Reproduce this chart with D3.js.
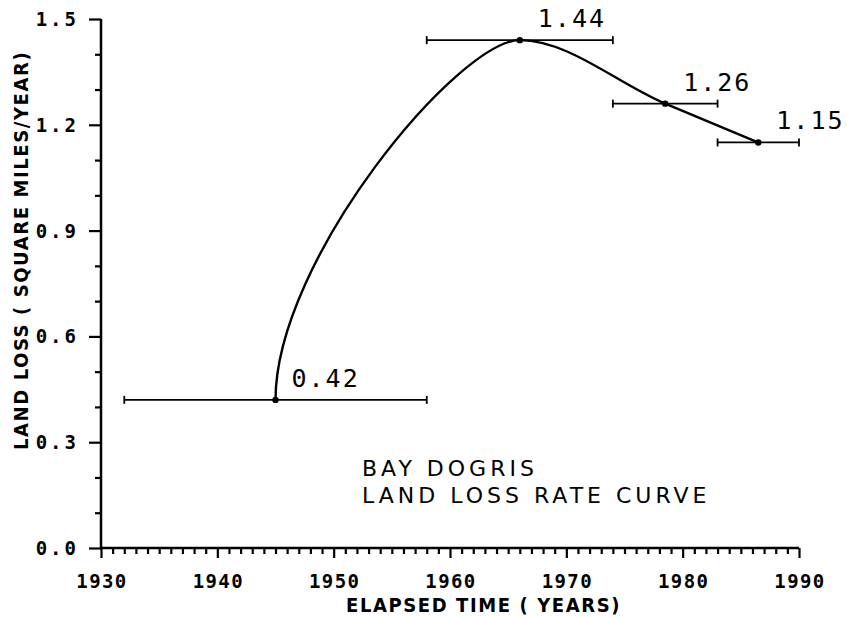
<!DOCTYPE html>
<html>
<head>
<meta charset="utf-8">
<script src="https://cdn.jsdelivr.net/npm/d3@7"></script>
<style>
  html, body { margin: 0; padding: 0; background: #fff; }
  svg { display: block; }
  text { fill: #000; }
</style>
</head>
<body>
<script>
// Land loss rate observations for Bay Dogris
const years = [1945, 1966, 1978.5, 1986.5];          // mid-point of each survey interval
const rates = [0.42, 1.44, 1.26, 1.15];              // square miles per year
const intervalStart = [1932, 1958, 1974, 1983];      // survey interval bounds
const intervalEnd = [1958, 1974, 1983, 1990];
const rateLabels = ["0.42", "1.44", "1.26", "1.15"];

const xTickValues = [1930, 1940, 1950, 1960, 1970, 1980, 1990];
const yTickValues = [0.0, 0.3, 0.6, 0.9, 1.2, 1.5];
const yTickLabels = ["0.0", "0.3", "0.6", "0.9", "1.2", "1.5"];

const titleLines = ["BAY DOGRIS", "LAND LOSS RATE CURVE"];
const xTitle = "ELAPSED TIME ( YEARS)";
const yTitle = "LAND LOSS ( SQUARE MILES/YEAR)";

const W = 847, H = 617;
const svg = d3.select("body").append("svg").attr("width", W).attr("height", H);

const x = d3.scaleLinear().domain([1930, 1990]).range([101, 799]);
const y = d3.scaleLinear().domain([0, 1.5]).range([548, 19]);

const mono = "'DejaVu Sans Mono', 'Liberation Mono', monospace";
const cond = "'DejaVu Sans Condensed', 'DejaVu Sans', sans-serif";

// Plotter-style spline: leaves the first point vertically, flattens at local
// extremes and uses monotone Hermite tangents elsewhere.
function curvePlotter(context) {
  let pts;
  return {
    areaStart() {}, areaEnd() {},
    lineStart() { pts = []; },
    point(px, py) { pts.push([+px, +py]); },
    lineEnd() {
      const n = pts.length;
      if (!n) return;
      context.moveTo(pts[0][0], pts[0][1]);
      if (n < 2) return;
      const h = [], s = [];
      for (let i = 0; i < n - 1; i++) {
        h[i] = pts[i + 1][0] - pts[i][0];
        s[i] = (pts[i + 1][1] - pts[i][1]) / h[i];
      }
      const m = new Array(n).fill(0);
      for (let i = 1; i < n - 1; i++) {
        if (s[i - 1] * s[i] <= 0) { m[i] = 0; continue; }
        const p = (s[i - 1] * h[i] + s[i] * h[i - 1]) / (h[i - 1] + h[i]);
        m[i] = (Math.sign(s[i - 1]) + Math.sign(s[i])) *
               Math.min(Math.abs(s[i - 1]), Math.abs(s[i]), 0.5 * Math.abs(p));
      }
      m[n - 1] = n > 2 ? (3 * s[n - 2] - m[n - 2]) / 2 : s[0];
      for (let i = 0; i < n - 1; i++) {
        const [x0, y0] = pts[i], [x1, y1] = pts[i + 1];
        let c1x, c1y, c2x, c2y;
        if (i === 0) {
          c1x = x0; c1y = y0 + (y1 - y0) * 0.39;
          const d = h[0] * 0.25;
          c2x = x1 - d; c2y = y1 - d * m[1];
        } else {
          const d = h[i] / 3;
          c1x = x0 + d; c1y = y0 + d * m[i];
          c2x = x1 - d; c2y = y1 - d * m[i + 1];
        }
        context.bezierCurveTo(c1x, c1y, c2x, c2y, x1, y1);
      }
    }
  };
}

// ---- Axes ----
// x axis: minor tick every year, major every decade
const xAxis = d3.axisBottom(x)
  .tickValues(d3.range(1930, 1991, 1))
  .tickSize(6)
  .tickFormat("");
const gx = svg.append("g").attr("transform", `translate(0,${y(0)})`).call(xAxis);
gx.select(".domain").remove();
gx.selectAll(".tick line")
  .attr("stroke", "#000").attr("stroke-width", 2.2)
  .filter(d => d % 10 === 0).attr("y2", 10);

// y axis: minor tick every 0.1, major every 0.3
const yAxis = d3.axisLeft(y)
  .tickValues(d3.range(0, 16).map(i => i / 10))
  .tickSize(6)
  .tickFormat("");
const gy = svg.append("g").attr("transform", `translate(${x(1930)},0)`).call(yAxis);
gy.select(".domain").remove();
gy.selectAll(".tick line")
  .attr("stroke", "#000").attr("stroke-width", 2.2)
  .filter(d => Math.round(d * 10) % 3 === 0).attr("x2", -12);

// axis lines
const axisG = svg.append("g").attr("stroke", "#000").attr("fill", "none")
  .attr("stroke-width", 2.5);
axisG.append("line")
  .attr("x1", x(1930)).attr("x2", x(1990))
  .attr("y1", y(0)).attr("y2", y(0));
axisG.append("line")
  .attr("x1", x(1930)).attr("x2", x(1930))
  .attr("y1", y(0)).attr("y2", y(1.5));

// tick labels
svg.append("g").selectAll("text").data(xTickValues).join("text")
  .attr("x", d => x(d) + 1)
  .attr("y", 588)
  .attr("text-anchor", "middle")
  .attr("font-family", mono)
  .attr("font-weight", "bold")
  .attr("font-size", 19)
  .attr("letter-spacing", 1.4)
  .text(d => d);

svg.append("g").selectAll("text").data(yTickValues).join("text")
  .attr("x", 79)
  .attr("y", d => y(d) + 7)
  .attr("text-anchor", "end")
  .attr("font-family", mono)
  .attr("font-weight", "bold")
  .attr("font-size", 19)
  .attr("letter-spacing", 3)
  .text((d, i) => yTickLabels[i]);

// axis titles
svg.append("text")
  .attr("x", 346).attr("y", 612)
  .attr("font-family", cond)
  .attr("font-weight", "bold")
  .attr("font-size", 20)
  .attr("letter-spacing", 1.6)
  .text(xTitle);

svg.append("text")
  .attr("transform", "translate(28,450) rotate(-90)")
  .attr("font-family", cond)
  .attr("font-weight", "bold")
  .attr("font-size", 20)
  .attr("letter-spacing", 1.6)
  .text(yTitle);

// ---- Interval bars ----
const idx = d3.range(years.length);
const bars = svg.append("g").attr("stroke", "#000").attr("stroke-width", 1.8);
bars.selectAll("line.span").data(idx).join("line")
  .attr("class", "span")
  .attr("x1", i => x(intervalStart[i])).attr("x2", i => x(intervalEnd[i]))
  .attr("y1", i => y(rates[i])).attr("y2", i => y(rates[i]));
bars.selectAll("line.capL").data(idx).join("line")
  .attr("class", "capL")
  .attr("x1", i => x(intervalStart[i])).attr("x2", i => x(intervalStart[i]))
  .attr("y1", i => y(rates[i]) - 4).attr("y2", i => y(rates[i]) + 4);
bars.selectAll("line.capR").data(idx).join("line")
  .attr("class", "capR")
  .attr("x1", i => x(intervalEnd[i])).attr("x2", i => x(intervalEnd[i]))
  .attr("y1", i => y(rates[i]) - 4).attr("y2", i => y(rates[i]) + 4);

// ---- Rate curve ----
const line = d3.line()
  .x(i => x(years[i]))
  .y(i => y(rates[i]))
  .curve(curvePlotter);
svg.append("path")
  .datum(idx)
  .attr("d", line)
  .attr("fill", "none")
  .attr("stroke", "#000")
  .attr("stroke-width", 2.4);

svg.append("g").selectAll("circle").data(idx).join("circle")
  .attr("cx", i => x(years[i])).attr("cy", i => y(rates[i]))
  .attr("r", 3.2).attr("fill", "#000");

// value labels
svg.append("g").selectAll("text").data(idx).join("text")
  .attr("x", i => x(years[i]) + (i === 0 ? 16 : 18))
  .attr("y", i => y(rates[i]) - 13)
  .attr("font-family", mono)
  .attr("font-size", 25)
  .attr("letter-spacing", 2)
  .text(i => rateLabels[i]);

// chart caption
svg.append("g").selectAll("text").data(titleLines).join("text")
  .attr("x", 362)
  .attr("y", (d, i) => 476 + i * 27)
  .attr("font-family", "'DejaVu Sans', sans-serif")
  .attr("font-size", 22)
  .attr("letter-spacing", 4)
  .text(d => d);
</script>
</body>
</html>
